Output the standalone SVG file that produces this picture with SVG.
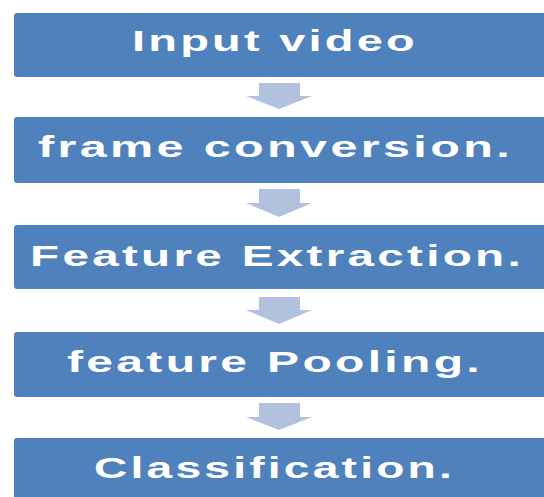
<svg xmlns="http://www.w3.org/2000/svg" width="544" height="497" viewBox="0 0 544 497">
<style>
.box{fill:#4F81BD}
.lbl{fill:#FFFFFF;font-family:"Liberation Sans",Arial,sans-serif;font-weight:bold;font-size:29px;letter-spacing:2px}
.arr{fill:#B2C1DD}
</style>
<rect width="544" height="497" fill="#FFFFFF"/>
<g id="node-input"><rect class="box" x="14" y="13" width="540" height="64" rx="3"/><text class="lbl" x="132" y="51" textLength="286" lengthAdjust="spacingAndGlyphs">Input video</text></g>
<g id="node-frame"><rect class="box" x="14" y="117" width="540" height="66" rx="3"/><text class="lbl" x="38" y="157" textLength="475" lengthAdjust="spacingAndGlyphs">frame conversion.</text></g>
<g id="node-feature"><rect class="box" x="14" y="225" width="540" height="64" rx="3"/><text class="lbl" x="30" y="266" textLength="494" lengthAdjust="spacingAndGlyphs">Feature Extraction.</text></g>
<g id="node-pooling"><rect class="box" x="14" y="332" width="540" height="65" rx="3"/><text class="lbl" x="67" y="372" textLength="416" lengthAdjust="spacingAndGlyphs">feature Pooling.</text></g>
<g id="node-class"><rect class="box" x="14" y="438" width="540" height="72" rx="3"/><text class="lbl" x="94" y="478" textLength="361" lengthAdjust="spacingAndGlyphs">Classification.</text></g>
<g id="connectors">
<path class="arr" d="M259,83 H300 V96 H312 L279,109 L246,96 H259 Z"/>
<path class="arr" d="M259,189 H300 V203 H312 L279,217 L246,203 H259 Z"/>
<path class="arr" d="M259,297 H300 V310 H312 L279,324 L246,310 H259 Z"/>
<path class="arr" d="M259,403 H300 V417 H312 L279,430 L246,417 H259 Z"/>
</g>
</svg>
